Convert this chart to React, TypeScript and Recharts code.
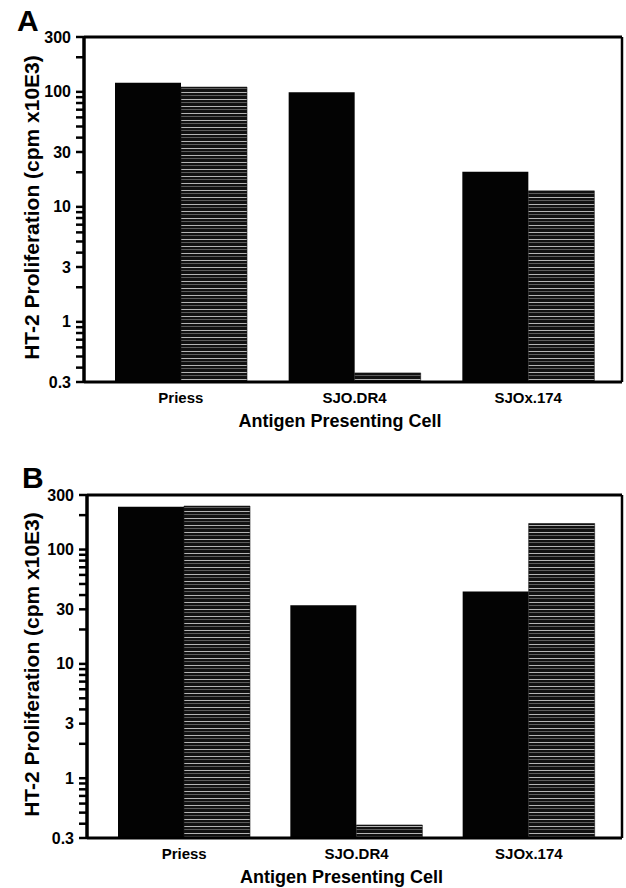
import React from 'react'
import { BarChart, Bar, XAxis, YAxis, ReferenceLine, Label } from 'recharts'

const categories = ['Priess', 'SJO.DR4', 'SJOx.174']
const panelABlack = [120, 99, 20.2]
const panelAHatched = [110, 0.36, 13.8]
const panelBBlack = [237, 32.5, 43]
const panelBHatched = [240, 0.39, 169]
const majorTicks = [0.3, 1, 3, 10, 30, 100, 300]
const minorTicks = [0.4, 0.5, 0.6, 0.7, 0.8, 0.9, 2, 4, 5, 6, 7, 8, 9, 20, 40, 50, 60, 70, 80, 90, 200]
const allTicks = [...majorTicks, ...minorTicks].sort((a, b) => a - b)

const FONT = '"Liberation Sans", Arial, Helvetica, sans-serif'

// tick lines come from the axis itself; this only writes the major labels
const YTick = (props: any) => {
  const { x, y, payload } = props
  if (!majorTicks.includes(payload.value)) return <g />
  return (
    <text x={x} y={y} dy={5.5} textAnchor="end" fontSize={16} fontWeight={700} fill="#000" fontFamily={FONT}>
      {payload.value}
    </text>
  )
}

const YTitle = ({ viewBox }: any) => {
  const cx = 31
  const cy = viewBox.y + viewBox.height / 2 - 2
  return (
    <text x={cx} y={cy} transform={`rotate(-90 ${cx} ${cy})`} textAnchor="middle" dominantBaseline="central"
      fontSize={21} fontWeight={700} fill="#000" fontFamily={FONT}>
      HT-2 Proliferation (cpm x10E3)
    </text>
  )
}

const XTitle = ({ viewBox }: any) => (
  <text x={viewBox.x + viewBox.width / 2 - 13} y={viewBox.y + 45} textAnchor="middle"
    fontSize={18} fontWeight={700} fill="#000" fontFamily={FONT}>
    Antigen Presenting Cell
  </text>
)

interface PanelProps {
  letter: string
  black: number[]
  hatched: number[]
  height: number
  top: number
  axisWidth: number
  xAxisHeight: number
  padLeft: number
  padRight: number
  letterX: number
  letterY: number
}

function Panel({ letter, black, hatched, height, top, axisWidth, xAxisHeight, padLeft, padRight, letterX, letterY }: PanelProps) {
  const data = categories.map((name, i) => ({ name, black: black[i], hatched: hatched[i] }))
  return (
    <div style={{ position: 'relative', width: 626, height }}>
      <span style={{ position: 'absolute', left: letterX, top: letterY - 27, fontSize: 30, fontWeight: 700, lineHeight: '30px', fontFamily: FONT }}>
        {letter}
      </span>
      <BarChart width={626} height={height} data={data} margin={{ top, right: 0, bottom: 0, left: 0 }} barGap={0}>
        <XAxis dataKey="name" tickLine={false} tickSize={0} tickMargin={10} height={xAxisHeight}
          axisLine={{ stroke: '#000', strokeWidth: 3 }} padding={{ left: padLeft, right: padRight }}
          tick={{ fill: '#000', fontSize: 15, fontWeight: 700, fontFamily: FONT }}>
          <Label content={<XTitle />} />
        </XAxis>
        <YAxis scale="log" domain={[0.3, 300]} allowDataOverflow ticks={allTicks} interval={0} width={axisWidth}
          tickLine={{ stroke: '#000', strokeWidth: 2.5 }} tickSize={8} tickMargin={5} tick={<YTick />}
          axisLine={{ stroke: '#000', strokeWidth: 3.5 }}>
          <Label content={<YTitle />} />
        </YAxis>
        <YAxis yAxisId="frame" orientation="right" scale="log" domain={[0.3, 300]} allowDataOverflow width={4}
          tick={false} tickLine={false} axisLine={{ stroke: '#000', strokeWidth: 2.5 }} />
        <ReferenceLine y={300} stroke="#000" strokeWidth={3} />
        <Bar dataKey="black" fill="#030303" barSize={66} isAnimationActive={false} />
        <Bar dataKey="hatched" fill="url(#hlines)" stroke="#1a1a1a" strokeWidth={0.6} barSize={66} isAnimationActive={false} />
      </BarChart>
    </div>
  )
}

export default function App() {
  return (
    <div style={{ position: 'absolute', left: 0, top: 0, width: 626, height: 888, background: '#fff', fontFamily: FONT }}>
      <svg width={0} height={0} style={{ position: 'absolute' }}>
        <defs>
          <pattern id="hlines" patternUnits="userSpaceOnUse" width={12} height={7}>
            <rect x={0} y={0} width={12} height={7} fill="#111" />
            <rect x={0} y={1} width={12} height={1} fill="#b4b4b4" />
            <rect x={0} y={4} width={12} height={1} fill="#5c5c5c" />
          </pattern>
        </defs>
      </svg>
      <Panel letter="A" black={panelABlack} hatched={panelAHatched} height={440} top={37} axisWidth={84}
        xAxisHeight={58} padLeft={10} padRight={7} letterX={17} letterY={33} />
      <Panel letter="B" black={panelBBlack} hatched={panelBHatched} height={448} top={55} axisWidth={87}
        xAxisHeight={50} padLeft={11} padRight={7} letterX={22} letterY={50} />
    </div>
  )
}
